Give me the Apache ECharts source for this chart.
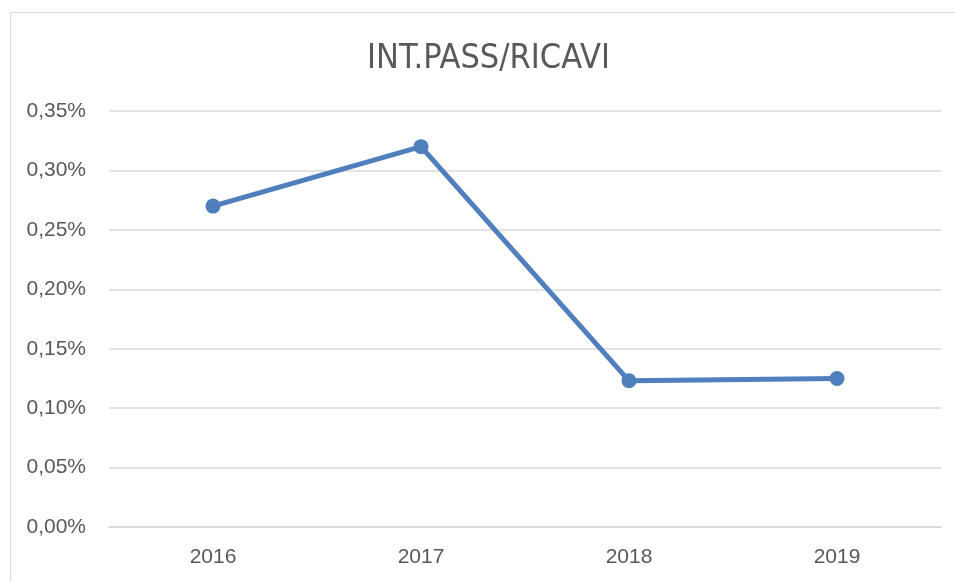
<!DOCTYPE html>
<html>
<head>
<meta charset="utf-8">
<style>
  html, body { margin: 0; padding: 0; background: #fff; }
  #main { width: 955px; height: 581px; }
</style>
</head>
<body>
<div id="main"></div>
<script src="https://cdn.jsdelivr.net/npm/echarts@6/dist/echarts.min.js"></script>
<script>
// dati (valori in %)
var anni = ['2016', '2017', '2018', '2019'];
var intPassRicavi = [0.270, 0.320, 0.123, 0.125];

var chart = echarts.init(document.getElementById('main'));

chart.setOption({
  animation: false,
  backgroundColor: '#fff',
  title: {
    text: 'INT.PASS/RICAVI',
    left: 367,
    top: 42,
    padding: 0,
    textStyle: {
      fontFamily: '"DejaVu Sans Condensed", "Liberation Sans", sans-serif',
      fontSize: 34,
      fontWeight: 'normal',
      color: '#595959'
    }
  },
  graphic: [{
    type: 'rect',
    shape: { x: 10.5, y: 12.5, width: 1000, height: 1000 },
    style: { fill: 'none', stroke: '#d9d9d9', lineWidth: 1 },
    silent: true
  }],
  grid: { left: 109, right: 14, top: 111, bottom: 54 },
  xAxis: {
    type: 'category',
    data: anni,
    axisLine: { lineStyle: { color: '#d9d9d9', width: 1.5 } },
    axisTick: { show: false },
    axisLabel: {
      color: '#595959',
      fontFamily: 'Liberation Sans',
      fontSize: 21,
      margin: 20
    }
  },
  yAxis: {
    type: 'value',
    min: 0,
    max: 0.35,
    interval: 0.05,
    axisLine: { show: false },
    axisTick: { show: false },
    splitLine: { lineStyle: { color: '#d9d9d9', width: 1.5 } },
    axisLabel: {
      color: '#595959',
      fontFamily: 'Liberation Sans',
      fontSize: 21,
      margin: 23,
      formatter: function (v) { return v.toFixed(2).replace('.', ',') + '%'; }
    }
  },
  series: [{
    type: 'line',
    data: intPassRicavi,
    symbol: 'circle',
    symbolSize: 15,
    lineStyle: { color: '#4f80bd', width: 5 },
    itemStyle: { color: '#4f80bd' }
  }]
});
</script>
</body>
</html>
